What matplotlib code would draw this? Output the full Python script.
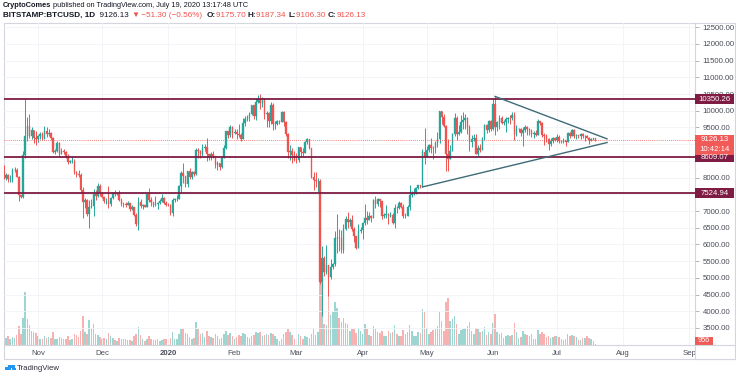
import numpy as np
import pandas as pd
import matplotlib
matplotlib.use("Agg")
import matplotlib.pyplot as plt
import matplotlib.dates as mdates
import matplotlib.transforms as mtrans
from matplotlib.patches import Rectangle

plt.rcParams['font.family'] = ['Liberation Sans', 'DejaVu Sans']

# ---------------- data ----------------
start_date = '2019-10-16'
first_open = 8165.0

close = [
    7995, 8075, 7950, 7960, 8225, 8240, 8030, 7470, 7410, 8665, 9245, 9550, 9250, 9430, 9180, 9155,
    9255, 9305, 9200, 9410, 9305, 9350, 9200, 8770, 8805, 9040, 8720, 8810, 8760, 8630, 8460, 8490, 8500, 8170, 8120, 8080,
    7620, 7280, 7320, 6910, 7130, 7150, 7520, 7450, 7750, 7550,
    7410, 7290, 7300, 7200, 7390, 7540, 7500, 7520, 7340, 7220, 7200, 7190, 7245, 7065, 7110, 6880, 6610, 7280, 7150, 7180,
    7130, 7515, 7320, 7255, 7190, 7195, 7245, 7300, 7390, 7225, 7185,
    7175, 6950, 7340, 7350, 7355, 7760, 8150, 8050, 7820, 8190, 8020, 8180, 8105, 8815, 8805, 8715, 8895, 8905, 8700, 8625,
    8720, 8650, 8380, 8430, 8330, 8590, 8900, 9385, 9290, 9505, 9340,
    9380, 9320, 9290, 9170, 9620, 9755, 9800, 9900, 10160, 9850, 10270, 10350, 10240, 10365, 9900, 9920, 9705, 10170, 9595, 9600,
    9685, 9660, 9960, 9665, 9310, 8780, 8790, 8675, 8530,
    8520, 8910, 8760, 8750, 9060, 9150, 8890, 8030, 7930, 7900, 7910, 4870, 5600, 5180, 5380, 5010, 5320, 5420, 6180, 6200,
    6190, 5820, 6470, 6750, 6680, 6730, 6470, 6240, 5890, 6400, 6420,
    6640, 6800, 6740, 6860, 6780, 7340, 7200, 7370, 7300, 6860, 6880, 6910, 6860, 6870, 6630, 7100, 7090, 7250, 7130, 6850,
    6860, 7120, 7480, 7510, 7540, 7690, 7770, 7760, 8780, 8630,
    8830, 8970, 8895, 8880, 9025, 9150, 9980, 9810, 9545, 8720, 8570, 8810, 9300, 9790, 9315, 9380, 9670, 9725, 9780, 9510,
    9065, 9170, 9180, 8720, 8900, 8840, 9200, 9575, 9430, 9700, 9450,
    10200, 9520, 9665, 9790, 9620, 9670, 9750, 9780, 9775, 9880, 9320, 9465, 9470, 9340, 9435, 9520, 9460, 9390, 9300, 9335,
    9290, 9685, 9620, 9290, 9250, 9160, 9010, 9110, 9190, 9140,
    9230, 9090, 9065, 9130, 9075, 9340, 9255, 9435, 9235, 9290, 9235, 9300, 9240, 9250, 9195, 9135, 9155, 9177.43, 9126.13,
]

high = [
    8390, 8135, 8105, 8090, 8300, 8330, 8300, 8045, 7490, 8800, 10350, 9800, 9900, 9525, 9435, 9390,
    9290, 9370, 9380, 9555, 9505, 9450, 9375, 9225, 8845, 9095, 9070, 8895, 8860, 8790, 8700, 8520, 8650, 8550, 8185, 8225,
    8130, 7705, 7375, 7345, 7320, 7350, 7645, 7630, 7850, 7820,
    7550, 7425, 7400, 7750, 7420, 7560, 7620, 7580, 7615, 7400, 7275, 7280, 7310, 7250, 7180, 7120, 6935, 7430, 7365, 7210,
    7175, 7515, 7690, 7415, 7270, 7440, 7270, 7370, 7520, 7430, 7305,
    7240, 7215, 7400, 7400, 7480, 7790, 8210, 8450, 8060, 8200, 8280, 8190, 8195, 8880, 8880, 8840, 9000, 9000, 9180, 8700,
    8780, 8790, 8660, 8500, 8450, 8620, 8970, 9400, 9410, 9560, 9530,
    9450, 9460, 9600, 9340, 9770, 9850, 9880, 9950, 10170, 10180, 10380, 10480, 10500, 10400, 10380, 10000, 9960, 10250, 10240, 9700,
    9710, 9730, 9995, 9990, 9700, 9340, 8990, 8900, 8800,
    8750, 8920, 8920, 8880, 9100, 9190, 9160, 8880, 8160, 8180, 7980, 7950, 5950, 5660, 5990, 5390, 5550, 5450, 6410, 6900,
    6450, 6420, 6600, 6850, 6960, 6780, 6880, 6520, 6250, 6600, 6520,
    6680, 7200, 7000, 6980, 6890, 7360, 7460, 7400, 7370, 7300, 6950, 7180, 6930, 6970, 6930, 7200, 7160, 7300, 7260, 7200,
    6940, 7170, 7770, 7600, 7700, 7730, 7780, 7790, 8870, 9480,
    8960, 9000, 9180, 8950, 9090, 9380, 9990, 9990, 9900, 9575, 9150, 8980, 9330, 9920, 9850, 9570, 9880, 9950, 9890, 9820,
    9560, 9270, 9300, 9310, 8980, 9010, 9220, 9610, 9600, 9730, 9710,
    10380, 10430, 9690, 9880, 9850, 9730, 9800, 9800, 9880, 9960, 9950, 9560, 9490, 9480, 9520, 9580, 9550, 9480, 9460, 9400,
    9420, 9760, 9690, 9660, 9330, 9300, 9190, 9190, 9230, 9200,
    9300, 9270, 9130, 9190, 9140, 9380, 9360, 9470, 9450, 9300, 9290, 9340, 9340, 9280, 9270, 9210, 9190, 9200, 9187.34,
]

low = [
    7955, 7920, 7880, 7880, 7860, 8160, 8020, 7300, 7380, 7400, 8600, 9100, 9180, 9170, 9025, 8970,
    9070, 9170, 9120, 9160, 9230, 9250, 9125, 8735, 8700, 8770, 8650, 8700, 8700, 8575, 8410, 8430, 8430, 8110, 8005, 8020,
    7550, 6800, 7090, 6860, 6500, 7100, 6865, 7320, 7410, 7460,
    7390, 7225, 7200, 7100, 7140, 7355, 7450, 7480, 7300, 7160, 7130, 7105, 7205, 7010, 7030, 6850, 6565, 6435, 7080, 7070,
    7110, 7125, 7270, 7155, 7125, 7150, 7050, 7220, 7280, 7200, 7150,
    7160, 6880, 6865, 7260, 7310, 7350, 7550, 7850, 7720, 7710, 7960, 7950, 8060, 8080, 8590, 8600, 8650, 8800, 8500, 8520,
    8520, 8600, 8290, 8240, 8230, 8300, 8580, 8860, 9200, 9220, 9200,
    9320, 9160, 9230, 9100, 9150, 9540, 9700, 9690, 9870, 9740, 9720, 10240, 10050, 10120, 9760, 9500, 9500, 9610, 9420, 9470,
    9580, 9600, 9650, 9550, 9250, 8600, 8520, 8430, 8500,
    8440, 8480, 8650, 8640, 8730, 9000, 8850, 8000, 7630, 7730, 7580, 4800, 3850, 5050, 5100, 4450, 4950, 5250, 5350, 5750,
    5800, 5740, 5730, 6440, 6500, 6540, 6410, 6060, 5850, 5880, 6350,
    6150, 6580, 6620, 6720, 6680, 6780, 7080, 7150, 7110, 6760, 6780, 6790, 6620, 6820, 6620, 6490, 6950, 7050, 7090, 6800,
    6780, 6840, 7030, 7410, 7470, 7510, 7660, 7680, 7720, 8410,
    8620, 8760, 8740, 8560, 8750, 8930, 9040, 9590, 9510, 8200, 8200, 8570, 8800, 9260, 9140, 9270, 9350, 9460, 9470, 9300,
    8800, 8930, 9100, 8700, 8650, 8770, 8840, 9120, 9340, 9370, 9400,
    9420, 9270, 9400, 9460, 9590, 9570, 9370, 9640, 9600, 9720, 9140, 9250, 9380, 9250, 8960, 9380, 9270, 9280, 9220, 9190,
    9240, 9270, 9560, 9230, 8990, 9060, 8840, 8950, 9050, 9100,
    9080, 9040, 9050, 9040, 8950, 9060, 9200, 9240, 9180, 9160, 9200, 9150, 9200, 9110, 9180, 9010, 9100, 9130, 9106.30,
]

# daily volume, thousands of BTC
volume_k = [
    6.0, 5.0, 6.5, 4.5, 5.5, 5.0, 7.0, 13.0, 8.0, 19.0, 37.0, 18.0, 14.0, 10.0, 9.0, 8.5,
    6.0, 4.5, 4.0, 6.5, 5.0, 5.5, 5.0, 9.0, 4.0, 4.5, 5.5, 5.0, 4.0, 4.5, 6.0, 3.5, 4.0, 7.5, 7.0, 5.5,
    10.0, 20.0, 9.0, 8.0, 17.5, 12.0, 15.0, 8.0, 7.0, 5.5,
    4.5, 5.0, 4.0, 8.5, 6.0, 5.0, 3.5, 3.0, 5.0, 4.5, 4.0, 4.5, 3.5, 3.5, 3.0, 6.0, 8.0, 12.5, 7.0, 4.5,
    3.0, 4.0, 6.0, 4.0, 3.5, 3.5, 4.5, 3.0, 3.5, 4.0, 4.5,
    3.5, 5.0, 9.0, 4.0, 4.5, 7.5, 11.0, 11.0, 8.5, 8.0, 5.5, 4.0, 5.0, 16.0, 11.0, 8.0, 8.5, 5.5, 9.5, 6.0,
    5.5, 5.0, 7.5, 6.0, 4.0, 5.0, 7.5, 9.5, 7.0, 8.5, 6.5,
    4.0, 5.5, 7.0, 6.0, 8.5, 7.5, 5.5, 5.0, 6.0, 7.0, 9.0, 8.5, 9.0, 6.5, 7.0, 7.5, 7.0, 8.5, 8.0, 6.0,
    4.5, 3.0, 4.0, 7.5, 9.0, 11.5, 9.0, 7.0, 4.5,
    4.0, 7.5, 6.5, 4.5, 6.0, 5.5, 5.0, 8.0, 12.0, 7.0, 9.0, 44.0, 44.0, 15.0, 14.0, 42.0, 21.0, 23.0, 30.0, 26.0,
    19.0, 16.0, 19.0, 15.5, 15.0, 10.0, 11.5, 11.0, 8.5, 12.0, 9.5,
    8.0, 15.0, 11.0, 7.0, 6.0, 13.0, 11.0, 9.0, 8.5, 10.0, 6.5, 6.0, 10.0, 8.5, 9.0, 14.0, 8.0, 6.5, 6.0, 10.5,
    8.0, 9.0, 14.0, 10.0, 6.0, 6.5, 9.0, 8.5, 25.0, 23.0,
    12.0, 8.0, 9.0, 10.5, 11.0, 13.0, 23.5, 17.0, 9.5, 30.0, 33.0, 16.5, 18.0, 20.0, 15.0, 8.0, 10.5, 11.0, 12.0, 13.0,
    16.0, 9.5, 7.5, 12.0, 11.0, 9.0, 10.0, 12.5, 7.0, 9.0, 8.0,
    15.5, 21.5, 9.0, 8.0, 8.5, 5.0, 6.0, 7.0, 6.5, 7.0, 15.5, 9.0, 5.0, 5.5, 10.0, 8.0, 7.0, 6.5, 8.0, 4.5,
    4.5, 10.5, 8.0, 9.0, 8.0, 5.5, 6.5, 5.0, 5.5, 6.0,
    6.0, 5.5, 4.0, 3.5, 4.0, 8.0, 6.0, 7.0, 6.5, 5.5, 3.5, 3.5, 5.0, 5.0, 6.0, 5.0, 4.0, 3.0, 0.956,
]

level_prices = [10350.26, 8609.07, 7524.94]
last_price = 9126.13
countdown = '10:42:14'
last_volume_label = '956'

upper_dates = ['2020-06-02 00:00', '2020-07-24 10:00']
upper_prices = [10430, 9160]
lower_dates = ['2020-04-29 00:00', '2020-07-24 10:00']
lower_prices = [7720, 9050]

price_ticks = list(range(3500, 13000, 500))
hidden_ticks = [9000, 8500, 7500]   # covered by the price labels on the axis
month_ticks = ['2019-11-01', '2019-12-01', '2020-01-01', '2020-02-01', '2020-03-01', '2020-04-01',
               '2020-05-01', '2020-06-01', '2020-07-01', '2020-08-01', '2020-09-01']
month_labels = ['Nov', 'Dec', '2020', 'Feb', 'Mar', 'Apr', 'May', 'Jun', 'Jul', 'Aug', 'Sep']

# ---------------- prep ----------------
assert len(close) == len(high) == len(low) == len(volume_k), (len(close), len(high), len(low), len(volume_k))
close = np.array(close, float)
opens = np.concatenate([[first_open], close[:-1]])
high = np.maximum(np.array(high, float), np.maximum(opens, close))
low = np.minimum(np.array(low, float), np.minimum(opens, close))
vol = np.array(volume_k, float)
dates = pd.date_range(start_date, periods=len(close), freq='D')
xd = mdates.date2num(dates)
up = close >= opens

def to_num(strings):
    return mdates.date2num(pd.to_datetime(strings, format='%Y-%m-%d %H:%M'))

UP = '#26a69a'
DN = '#ef5350'
MAROON = '#7e1c44'
TXT = '#4a4e59'
GRID = '#f0f2f6'
BORDER = '#d3d6de'

W, H = 736, 379
fig = plt.figure(figsize=(W / 100, H / 100), dpi=100)
fig.patch.set_facecolor('white')

def fx(px):
    return px / W

def fy(py):
    return 1 - py / H

frame = Rectangle((fx(3.5), fy(358.5)), fx(735) - fx(3.5), fy(22.5) - fy(358.5), transform=fig.transFigure,
                  fill=False, edgecolor=BORDER, lw=0.8, zorder=0)
fig.patches.append(frame)

pos = [fx(4), fy(345), fx(695) - fx(4), fy(23) - fy(345)]
x_left = mdates.date2num(pd.Timestamp('2019-10-16 02:00'))
x_right = x_left + (695 - 4) / 2.136

vax = fig.add_axes(pos, zorder=0)
vax.set_xlim(x_left, x_right)
vax.set_ylim(0, 225)
vax.bar(xd[up], vol[up], width=0.72, color=UP, alpha=0.45, linewidth=0)
vax.bar(xd[~up], vol[~up], width=0.72, color=DN, alpha=0.45, linewidth=0)
vax.axis('off')

ax = fig.add_axes(pos, zorder=1)
ax.patch.set_alpha(0)
ax.set_xlim(x_left, x_right)
ax.set_ylim(12500 - (345 - 27.3) / 0.0334, 12500 + (27.3 - 23) / 0.0334)

for s in ['top', 'left']:
    ax.spines[s].set_visible(False)
for s in ['right', 'bottom']:
    ax.spines[s].set_color(BORDER)
    ax.spines[s].set_linewidth(0.8)

ax.set_yticks(price_ticks)
ax.yaxis.tick_right()
ax.set_yticklabels(['' if p in hidden_ticks else f'{p:.2f}' for p in price_ticks])
ax.tick_params(axis='y', labelsize=5.6, colors=TXT, length=3, width=0.5, pad=2.5)
ax.tick_params(axis='y', color='#9598a1')
mt = mdates.date2num(pd.to_datetime(month_ticks, format='%Y-%m-%d'))
ax.set_xticks(mt)
ax.set_xticklabels(month_labels)
ax.tick_params(axis='x', labelsize=5.6, colors=TXT, length=0, pad=3.4)
for lbl in ax.get_xticklabels():
    if lbl.get_text() == '2020':
        lbl.set_fontweight('bold')
ax.grid(True, color=GRID, lw=0.6)
ax.set_axisbelow(True)

ax.vlines(xd[up], low[up], high[up], color=UP, lw=0.7, zorder=3)
ax.vlines(xd[~up], low[~up], high[~up], color=DN, lw=0.7, zorder=3)
body_lo = np.minimum(opens, close)
body_h = np.abs(close - opens)
ax.bar(xd[up], body_h[up], bottom=body_lo[up], width=0.72, color=UP, edgecolor=UP, lw=0.25, zorder=4)
ax.bar(xd[~up], body_h[~up], bottom=body_lo[~up], width=0.72, color=DN, edgecolor=DN, lw=0.25, zorder=4)

for p in level_prices:
    ax.axhline(p, color=MAROON, lw=1.3, zorder=5)
ax.axhline(last_price, color=DN, lw=0.6, ls=(0, (1, 1.5)), zorder=5)

ax.plot(to_num(upper_dates), upper_prices, color='#3f6b78', lw=1.0, zorder=6)
ax.plot(to_num(lower_dates), lower_prices, color='#3f6b78', lw=1.0, zorder=6)

blend = mtrans.blended_transform_factory(fig.transFigure, ax.transData)
box_h = 10 / 0.0334
box_x0 = fx(695)
box_w = fx(734) - fx(695)

def price_box(price, label, color):
    r = Rectangle((box_x0, price - box_h / 2), box_w, box_h, transform=blend, facecolor=color,
                  edgecolor='none', zorder=10)
    fig.patches.append(r)
    fig.text(fx(714.5), price, label, transform=blend, ha='center', va='center', fontsize=5.6,
             color='white', zorder=11)

for p in level_prices:
    price_box(p, f'{p:.2f}', MAROON)
price_box(last_price, f'{last_price:.2f}', '#f05a57')
price_box(last_price - box_h, countdown, '#f05a57')

r = Rectangle((fx(695), fy(345.5)), fx(713) - fx(695), fy(336.5) - fy(345.5), transform=fig.transFigure,
              facecolor='#f05a57', edgecolor='none', zorder=10)
fig.patches.append(r)
fig.text(fx(704), fy(341), last_volume_label, ha='center', va='center', fontsize=5.2, color='white', zorder=11)

corner = Rectangle((fx(695), fy(358.5)), fx(735) - fx(695), fy(345) - fy(358.5), transform=fig.transFigure,
                   facecolor='white', edgecolor=BORDER, lw=0.8, zorder=12)
fig.patches.append(corner)

hax = fig.add_axes([0, 0, 1, 1], zorder=20)
hax.axis('off')
hax.set_xlim(0, 1)
hax.set_ylim(0, 1)
DARK = '#131722'

def chain(pieces, x0, y0, size):
    prev = None
    for txt, color, weight in pieces:
        if prev is None:
            prev = hax.text(x0, y0, txt, color=color, fontweight=weight, fontsize=size, ha='left', va='center')
        else:
            prev = hax.annotate(txt, xy=(1, 0.5), xycoords=prev, ha='left', va='center',
                                color=color, fontweight=weight, fontsize=size)

chain([('CryptoComes', DARK, 'bold'),
       (' published on TradingView.com, July 19, 2020 13:17:48 UTC', DARK, 'normal')],
      fx(3), fy(5.5), 5.3)
chain([('BITSTAMP:BTCUSD, 1D', DARK, 'bold'),
       ('  9126.13 ', DARK, 'normal'),
       ('\u25BC', DN, 'normal'),
       (' \u221251.30 (\u22120.56%)  ', DN, 'normal'),
       ('O:', DARK, 'bold'), ('9175.70 ', DN, 'normal'),
       ('H:', DARK, 'bold'), ('9187.34 ', DN, 'normal'),
       ('L:', DARK, 'bold'), ('9106.30 ', DN, 'normal'),
       ('C:', DARK, 'bold'), ('9126.13', DN, 'normal')],
      fx(3), fy(15.5), 5.9)

for cx, cy, rr in [(8, 368.5, 3.0), (11.5, 366.5, 3.2), (14.0, 369.0, 2.4)]:
    c = Rectangle((fx(cx - rr), fy(cy + rr * 0.6)), fx(2 * rr), fy(0) - fy(rr * 1.2), transform=fig.transFigure,
                  facecolor='#2196f3', edgecolor='none')
    fig.patches.append(c)
hax.text(fx(17), fy(368), 'TradingView', fontsize=5.6, color='#2a2e39', ha='left', va='center')

fig.savefig('out.png', dpi=100, facecolor='white')
